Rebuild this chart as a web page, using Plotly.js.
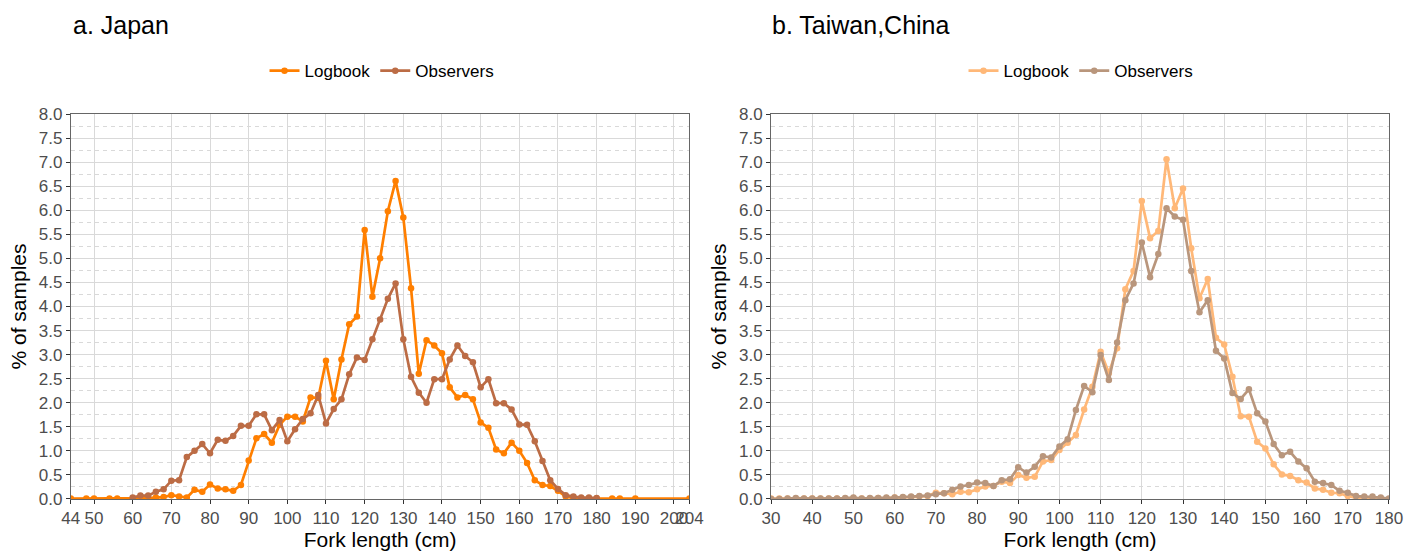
<!DOCTYPE html>
<html>
<head>
<meta charset="utf-8">
<script src="https://cdn.plot.ly/plotly-3.0.1.min.js"></script>
<style>
html,body{margin:0;padding:0;background:#fff;overflow:hidden;}
#plot{width:1405px;height:551px;}
</style>
</head>
<body>
<div id="plot"></div>
<script>
// ---- Panel a: Japan ----
const jpLogX = [44,48,50,54,56,60,62,64,66,68,70,72,74,76,78,80,82,84,86,88,90,92,94,96,98,100,102,104,106,108,110,112,114,116,118,120,122,124,126,128,130,132,134,136,138,140,142,144,146,148,150,152,154,156,158,160,162,164,166,168,170,172,174,176,178,180,184,186,190,204];
const jpLogY = [0.01,0.01,0.01,0.01,0.01,0.01,0.01,0.02,0.03,0.04,0.08,0.05,0.03,0.19,0.15,0.30,0.22,0.20,0.17,0.29,0.80,1.26,1.35,1.17,1.54,1.71,1.71,1.61,2.11,2.10,2.87,2.07,2.90,3.63,3.79,5.59,4.20,5.00,5.98,6.61,5.85,4.38,2.60,3.30,3.19,3.03,2.32,2.11,2.16,2.07,1.59,1.48,1.03,0.95,1.17,1.00,0.75,0.39,0.29,0.27,0.17,0.05,0.02,0.01,0.01,0.01,0.01,0.01,0.01,0.01];
const jpObsX = [60,62,64,66,68,70,72,74,76,78,80,82,84,86,88,90,92,94,96,98,100,102,104,106,108,110,112,114,116,118,120,122,124,126,128,130,132,134,136,138,140,142,144,146,148,150,152,154,156,158,160,162,164,166,168,170,172,174,176,178,180];
const jpObsY = [0.03,0.07,0.07,0.15,0.20,0.38,0.39,0.87,1.00,1.14,0.95,1.23,1.21,1.31,1.52,1.52,1.76,1.76,1.43,1.64,1.20,1.45,1.66,1.78,2.16,1.57,1.87,2.07,2.59,2.94,2.89,3.32,3.73,4.16,4.48,3.32,2.54,2.21,2.00,2.49,2.49,2.90,3.19,2.97,2.84,2.32,2.49,1.99,1.99,1.86,1.55,1.54,1.20,0.79,0.39,0.21,0.08,0.05,0.03,0.03,0.02];
const jpTickVals = [44,50,60,70,80,90,100,110,120,130,140,150,160,170,180,190,200,204];
const jpTickText = ["44","50","60","70","80","90","100","110","120","130","140","150","160","170","180","190","200","204"];

// ---- Panel b: Taiwan,China ----
const twX = [30,32,34,36,38,40,42,44,46,48,50,52,54,56,58,60,62,64,66,68,70,72,74,76,78,80,82,84,86,88,90,92,94,96,98,100,102,104,106,108,110,112,114,116,118,120,122,124,126,128,130,132,134,136,138,140,142,144,146,148,150,152,154,156,158,160,162,164,166,168,170,172,174,176,178,180];
const twLogY = [0.01,0.01,0.01,0.01,0.01,0.01,0.01,0.01,0.01,0.01,0.02,0.01,0.01,0.02,0.02,0.03,0.03,0.04,0.05,0.06,0.13,0.12,0.10,0.15,0.14,0.20,0.26,0.27,0.36,0.33,0.50,0.44,0.46,0.78,0.81,1.02,1.17,1.33,1.86,2.33,3.06,2.62,3.13,4.36,4.74,6.19,5.42,5.57,7.06,6.04,6.45,5.21,4.17,4.57,3.35,3.21,2.54,1.72,1.71,1.19,1.05,0.72,0.51,0.48,0.39,0.34,0.22,0.19,0.13,0.12,0.06,0.03,0.02,0.01,0.01,0.00];
const twObsY = [0.00,0.00,0.01,0.02,0.01,0.01,0.01,0.01,0.01,0.02,0.03,0.01,0.02,0.02,0.03,0.03,0.04,0.05,0.06,0.07,0.10,0.12,0.19,0.26,0.29,0.34,0.33,0.27,0.39,0.41,0.66,0.55,0.67,0.89,0.86,1.09,1.24,1.85,2.35,2.22,2.99,2.47,3.25,4.13,4.48,5.33,4.61,5.09,6.04,5.87,5.80,4.74,3.88,4.13,3.08,2.92,2.20,2.08,2.28,1.78,1.61,1.14,0.91,0.98,0.78,0.64,0.36,0.33,0.29,0.17,0.13,0.06,0.05,0.05,0.03,0.01];
const twTickVals = [30,40,50,60,70,80,90,100,110,120,130,140,150,160,170,180];

const seriesNames = ["Logbook","Observers"];
const panelTitles = ["a. Japan","b. Taiwan,China"];
const xTitle = "Fork length (cm)";
const yTitle = "% of samples";

const FONT = "Liberation Sans, Arial, sans-serif";
const colJpLog = "#FF7F00", colJpObs = "#BC6C45";
const colTwLog = "#FFB878", colTwObs = "#B9967C";

function tr(x, y, name, color, xa, ya, leg) {
  return {x: x, y: y, name: name, type: "scatter", mode: "lines+markers",
    xaxis: xa, yaxis: ya, legend: leg,
    line: {color: color, width: 2.7}, marker: {color: color, size: 6.5}};
}
const data = [
  tr(jpLogX, jpLogY, seriesNames[0], colJpLog, "x", "y", "legend"),
  tr(jpObsX, jpObsY, seriesNames[1], colJpObs, "x", "y", "legend"),
  tr(twX, twLogY, seriesNames[0], colTwLog, "x2", "y2", "legend2"),
  tr(twX, twObsY, seriesNames[1], colTwObs, "x2", "y2", "legend2")
];

const yTicks = [];
for (let i = 0; i <= 16; i++) yTicks.push(i * 0.5);

function yax(anchor) {
  return {anchor: anchor, domain: [0.0944, 0.7931], range: [0, 8], tickvals: yTicks,
    tickformat: ".1f", ticks: "outside", ticklen: 4, tickcolor: "#333333", tickwidth: 1,
    tickfont: {family: FONT, size: 17, color: "#4d4d4d"},
    showgrid: true, gridcolor: "#D9D9D9", gridwidth: 1, zeroline: false,
    minor: {dtick: 0.25, showgrid: true, gridcolor: "#D9D9D9", griddash: "4px,4px", gridwidth: 1, ticks: ""},
    showline: true, linecolor: "#666666", linewidth: 1, mirror: true,
    title: {text: yTitle, font: {family: FONT, size: 21, color: "#000"}, standoff: 6}};
}
function xax(anchor, dom, rng, tv, tt) {
  const a = {anchor: anchor, domain: dom, range: rng, tickvals: tv, tickangle: 0,
    ticks: "outside", ticklen: 4, tickcolor: "#333333", tickwidth: 1,
    tickfont: {family: FONT, size: 17, color: "#4d4d4d"},
    showgrid: true, gridcolor: "#D9D9D9", gridwidth: 1, zeroline: false,
    showline: true, linecolor: "#666666", linewidth: 1, mirror: true,
    title: {text: xTitle, font: {family: FONT, size: 21, color: "#000"}, standoff: 3}};
  if (tt) a.ticktext = tt;
  return a;
}

const layout = {
  width: 1405, height: 551,
  margin: {l: 0, r: 0, t: 0, b: 0},
  paper_bgcolor: "#fff", plot_bgcolor: "#fff",
  font: {family: FONT},
  showlegend: true,
  xaxis: xax("y", [0.0504, 0.4907], [44, 204], jpTickVals, jpTickText),
  yaxis: yax("x"),
  xaxis2: xax("y2", [0.5488, 0.9886], [30, 180], twTickVals, null),
  yaxis2: yax("x2"),
  legend: {orientation: "h", x: 0.2719, xanchor: "center", y: 0.871, yanchor: "middle",
    font: {family: FONT, size: 17, color: "#000"}, bgcolor: "rgba(0,0,0,0)", itemwidth: 30},
  legend2: {orientation: "h", x: 0.7694, xanchor: "center", y: 0.871, yanchor: "middle",
    font: {family: FONT, size: 17, color: "#000"}, bgcolor: "rgba(0,0,0,0)", itemwidth: 30},
  annotations: [
    {text: panelTitles[0], xref: "paper", yref: "paper", x: 0.0505, y: 0.9546,
      xanchor: "left", yanchor: "middle", showarrow: false,
      font: {family: FONT, size: 25, color: "#000"}},
    {text: panelTitles[1], xref: "paper", yref: "paper", x: 0.548, y: 0.9546,
      xanchor: "left", yanchor: "middle", showarrow: false,
      font: {family: FONT, size: 25, color: "#000"}}
  ]
};

Plotly.newPlot("plot", data, layout, {displayModeBar: false, staticPlot: true});
</script>
</body>
</html>
